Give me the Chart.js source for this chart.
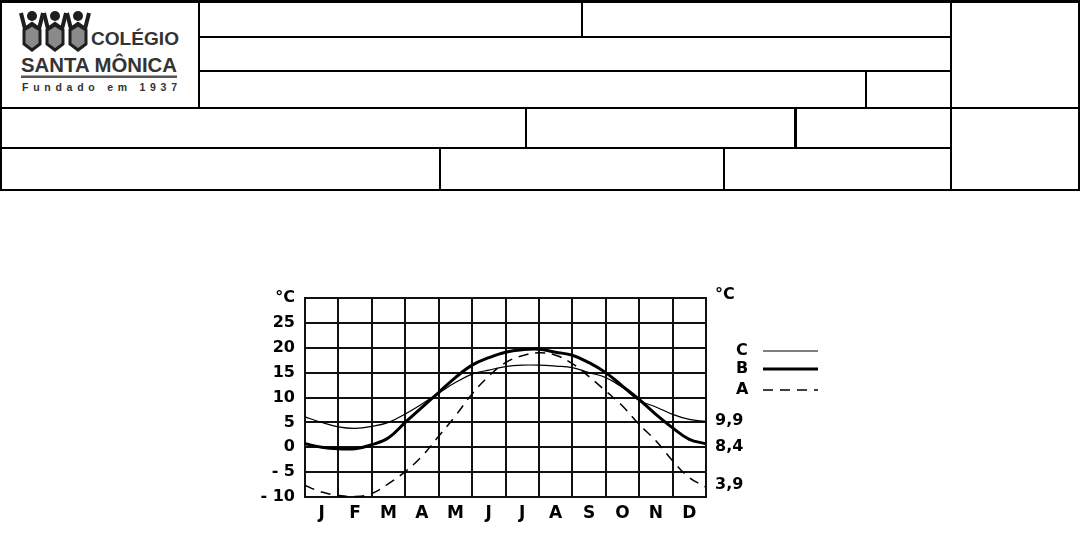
<!DOCTYPE html>
<html>
<head>
<meta charset="utf-8">
<script src="https://cdn.jsdelivr.net/npm/chart.js@4"></script>
<style>
  body { margin: 0; background: #fff; width: 1080px; height: 557px; position: relative; overflow: hidden; font-family: "Liberation Sans", Arial, sans-serif; }
  .ln { position: absolute; background: #000; }
  #chartBox { position: absolute; left: 230px; top: 275px; width: 620px; height: 260px; }
</style>
</head>
<body>

<!-- header form -->
<div class="ln" style="left:0;top:0;width:1080px;height:3px"></div>
<div class="ln" style="left:0;top:0;width:2px;height:191px"></div>
<div class="ln" style="left:1078px;top:0;width:2px;height:191px"></div>
<div class="ln" style="left:0;top:189px;width:1080px;height:2px"></div>
<div class="ln" style="left:199px;top:36px;width:752px;height:2px"></div>
<div class="ln" style="left:199px;top:70px;width:752px;height:2px"></div>
<div class="ln" style="left:0;top:107px;width:1080px;height:2px"></div>
<div class="ln" style="left:0;top:147px;width:951px;height:2px"></div>
<div class="ln" style="left:198px;top:0;width:2px;height:108px"></div>
<div class="ln" style="left:581px;top:0;width:2px;height:37px"></div>
<div class="ln" style="left:865px;top:71px;width:2px;height:37px"></div>
<div class="ln" style="left:950px;top:0;width:2px;height:191px"></div>
<div class="ln" style="left:525px;top:108px;width:2px;height:40px"></div>
<div class="ln" style="left:794px;top:108px;width:3px;height:40px"></div>
<div class="ln" style="left:439px;top:148px;width:2px;height:42px"></div>
<div class="ln" style="left:723px;top:148px;width:2px;height:42px"></div>

<svg style="position:absolute;left:0;top:0" width="199" height="107">
  <g stroke="#1e1e1e" fill="#8a8a8a">
    <g id="fig">
      <polyline points="21,13 25,29 32,24 39,29 43,13" fill="none" stroke-width="4"/>
      <polygon points="24,30 32,25 40,30 40,44 32,50 24,44" stroke-width="3"/>
      <circle cx="32" cy="16" r="5" fill="#1e1e1e" stroke="none"/>
    </g>
    <use href="#fig" x="23"/>
    <use href="#fig" x="46"/>
  </g>
  <text x="91" y="45" font-family="Liberation Sans" font-weight="bold" font-size="18" fill="#333" textLength="88" lengthAdjust="spacingAndGlyphs">COLÉGIO</text>
  <text x="21" y="72" font-family="Liberation Sans" font-weight="bold" font-size="20" fill="#333" textLength="156" lengthAdjust="spacingAndGlyphs">SANTA MÔNICA</text>
  <rect x="21" y="75.5" width="156" height="2.5" fill="#555"/>
  <text x="22" y="91" font-family="Liberation Sans" font-weight="bold" font-size="10.5" fill="#333" textLength="155" lengthAdjust="spacing">Fundado em 1937</text>
</svg>

<div id="chartBox"><canvas id="climate"></canvas></div>

<script>
// month labels and tick labels
const months = ['J', 'F', 'M', 'A', 'M', 'J', 'J', 'A', 'S', 'O', 'N', 'D'];
const yTickLabels = ['- 10', '- 5', '0', '5', '10', '15', '20', '25', '°C'];
const rightTickValues = [30.6, 5.4, 0, -7.6];
const rightTickLabels = ['°C', '9,9', '8,4', '3,9'];

// month position (0 = start of Jan, 12 = end of Dec)
const monthPos = [0, 0.5, 1, 1.5, 2, 2.5, 3, 3.5, 4, 4.5, 5, 5.5, 6,
                  6.5, 7, 7.5, 8, 8.5, 9, 9.5, 10, 10.5, 11, 11.5, 12];

// temperatures (°C)
const tempC = [6.1, 5.0, 4.1, 3.8, 4.2, 5.0, 6.7, 8.7, 10.9, 13.0, 14.7, 15.5, 16.2,
               16.5, 16.5, 16.3, 16.0, 15.0, 14.0, 12.0, 9.4, 8.1, 6.6, 5.6, 5.2];
const tempB = [0.7, 0.0, -0.3, -0.3, 0.5, 1.9, 5.0, 8.0, 11.0, 14.0, 16.5, 18.0, 19.1,
               19.6, 19.7, 19.1, 18.5, 17.0, 15.0, 12.3, 9.6, 6.6, 3.9, 1.6, 0.7];
const tempA = [-7.7, -9.0, -9.7, -9.9, -9.3, -7.3, -4.9, -1.8, 2.2, 6.3, 10.7, 14.3, 17.0,
               18.4, 19.0, 18.5, 16.8, 14.2, 11.3, 8.3, 4.6, 1.3, -2.7, -6.1, -8.0];

function points(vals) {
    return vals.map((v, i) => ({ x: monthPos[i], y: v }));
}

const tickFont = { family: 'DejaVu Sans', weight: 'bold', size: 16 };

// legend drawn to the right: label first, then line sample
const sideLegend = {
    id: 'sideLegend',
    afterDraw(chart) {
        const ctx = chart.ctx;
        const area = chart.chartArea;
        const rows = [53, 71, 92];
        ctx.save();
        ctx.font = 'bold 16px "DejaVu Sans"';
        ctx.fillStyle = '#000';
        ctx.textBaseline = 'middle';
        chart.data.datasets.forEach((ds, i) => {
            const y = area.top + rows[i];
            ctx.fillText(ds.label, area.right + 30, y);
            ctx.beginPath();
            ctx.strokeStyle = '#000';
            ctx.lineWidth = ds.borderWidth;
            ctx.setLineDash(ds.borderDash || []);
            ctx.moveTo(area.right + 57, y);
            ctx.lineTo(area.right + 112, y);
            ctx.stroke();
        });
        ctx.restore();
    }
};

const ctx = document.getElementById('climate').getContext('2d');
const climateChart = new Chart(ctx, {
    type: 'line',
    data: {
        datasets: [
            { label: 'C', data: points(tempC), borderColor: '#000', borderWidth: 1.2, tension: 0.4, pointRadius: 0 },
            { label: 'B', data: points(tempB), borderColor: '#000', borderWidth: 3, tension: 0.4, pointRadius: 0 },
            { label: 'A', data: points(tempA), borderColor: '#000', borderWidth: 1.5, borderDash: [10, 7], tension: 0.4, pointRadius: 0 }
        ]
    },
    options: {
        responsive: true,
        maintainAspectRatio: false,
        animation: false,
        layout: { padding: { top: 23, left: 0, right: 0, bottom: 0 } },
        plugins: {
            legend: { display: false },
            tooltip: { enabled: false }
        },
        scales: {
            x: {
                type: 'linear',
                min: 0,
                max: 12,
                afterFit: (scale) => { scale.height = 38; },
                grid: { color: '#111', lineWidth: 2, drawTicks: false },
                border: { color: '#111', width: 2 },
                ticks: {
                    stepSize: 1,
                    autoSkip: false,
                    maxRotation: 0,
                    labelOffset: 16.7,
                    padding: 6,
                    color: '#000',
                    font: { family: 'DejaVu Sans', weight: 'bold', size: 17 },
                    callback: (v, i) => months[i] || ''
                }
            },
            y: {
                position: 'left',
                min: -10,
                max: 30,
                afterFit: (scale) => { scale.width = 75; },
                grid: { color: '#111', lineWidth: 2, drawTicks: false },
                border: { color: '#111', width: 2 },
                ticks: {
                    stepSize: 5,
                    autoSkip: false,
                    padding: 10,
                    color: '#000',
                    font: tickFont,
                    callback: (v, i) => yTickLabels[i]
                }
            },
            y2: {
                position: 'right',
                min: -10,
                max: 30,
                afterFit: (scale) => { scale.width = 144; },
                afterBuildTicks: (scale) => { scale.ticks = rightTickValues.map(v => ({ value: v })); },
                grid: { display: false, drawTicks: false },
                border: { color: '#111', width: 2 },
                ticks: {
                    autoSkip: false,
                    padding: 9,
                    color: '#000',
                    font: tickFont,
                    callback: (v, i) => rightTickLabels[i]
                }
            }
        }
    },
    plugins: [sideLegend]
});
</script>
</body>
</html>
